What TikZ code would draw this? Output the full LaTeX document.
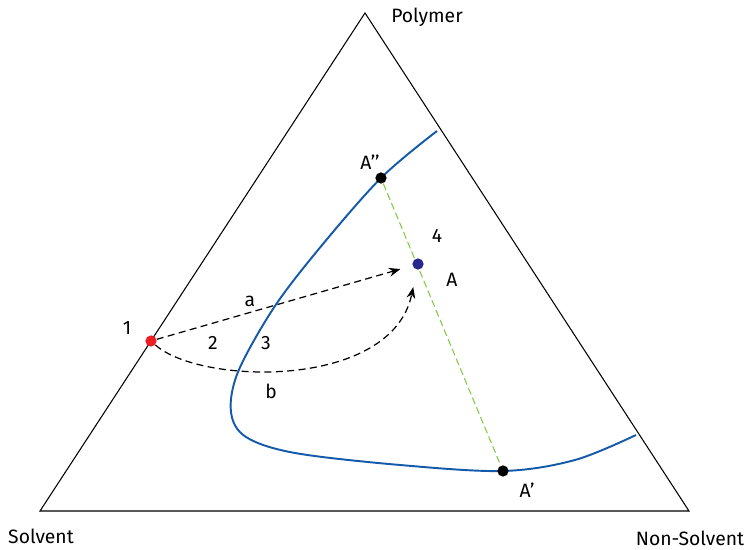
\documentclass[tikz,border=0pt]{standalone}
\usepackage{fontspec}
\setmainfont{Fira Sans}
\usetikzlibrary{arrows.meta}
\definecolor{curveblue}{RGB}{20,90,170}
\definecolor{tieline}{RGB}{130,200,70}
\definecolor{dotred}{RGB}{235,30,35}
\definecolor{dotnavy}{RGB}{40,40,140}

\begin{document}
\begin{tikzpicture}[
  x=0.02cm,y=-0.02cm,
  font=\fontsize{11}{13}\selectfont,
  dot/.style={circle,inner sep=0pt,minimum size=6.4pt,fill=#1},
  lbl/.style={inner sep=1pt},
  path/.style={dashed,dash pattern=on 4pt off 2.5pt,line width=0.7pt,-{Stealth[length=6.5pt,width=5pt]}}]
\useasboundingbox (0,0) rectangle (748,550);
% triangle
\coordinate (top) at (365,13);
\coordinate (sol) at (40,511);
\coordinate (non) at (689,511);
\draw[line width=0.6pt] (sol) -- (top) -- (non) -- cycle;
\node[lbl] (polymer) at (427,17) {Polymer};
\node[lbl] (solvent) at (41,536) {Solvent};
\node[lbl] (nonsolvent) at (690,538) {Non-Solvent};
% binodal
\coordinate (pApp) at (381,178);
\coordinate (pAp) at (503,471);
\draw[curveblue,line width=1.1pt] plot[smooth,tension=0.55] coordinates
  {(437,131) (pApp) (318,250) (273,309) (238,372) (231,412) (246,437)
   (295,453) (400,465) (pAp) (575,460) (636,435)};
% tie line
\node[dot=black] (App) at (pApp) {};
\node[dot=black] (Ap) at (pAp) {};
\draw[tieline,dashed,dash pattern=on 4pt off 2pt,line width=0.6pt] (App) -- (Ap);
\node[dot=dotred] (p1) at (151,341) {};
\node[dot=dotnavy] (pA) at (418,264) {};
% paths
\draw[path,shorten >=7pt] (p1) -- (pA);
\draw[path,shorten >=10pt] (p1) .. controls (200,385) and (392,390) .. (pA);
% labels
\node[lbl] (l1) at (127,328) {1};
\node[lbl] (la) at (250,301) {a};
\node[lbl] (l2) at (213,343) {2};
\node[lbl] (l3) at (266,343) {3};
\node[lbl] (lb) at (271,391) {b};
\node[lbl] (l4) at (437,236) {4};
\node[lbl] (lA) at (452,280) {A};
\node[lbl] (lApp) at (370,162) {A’’};
\node[lbl] (lAp) at (527,490) {A’};
\end{tikzpicture}
\end{document}
